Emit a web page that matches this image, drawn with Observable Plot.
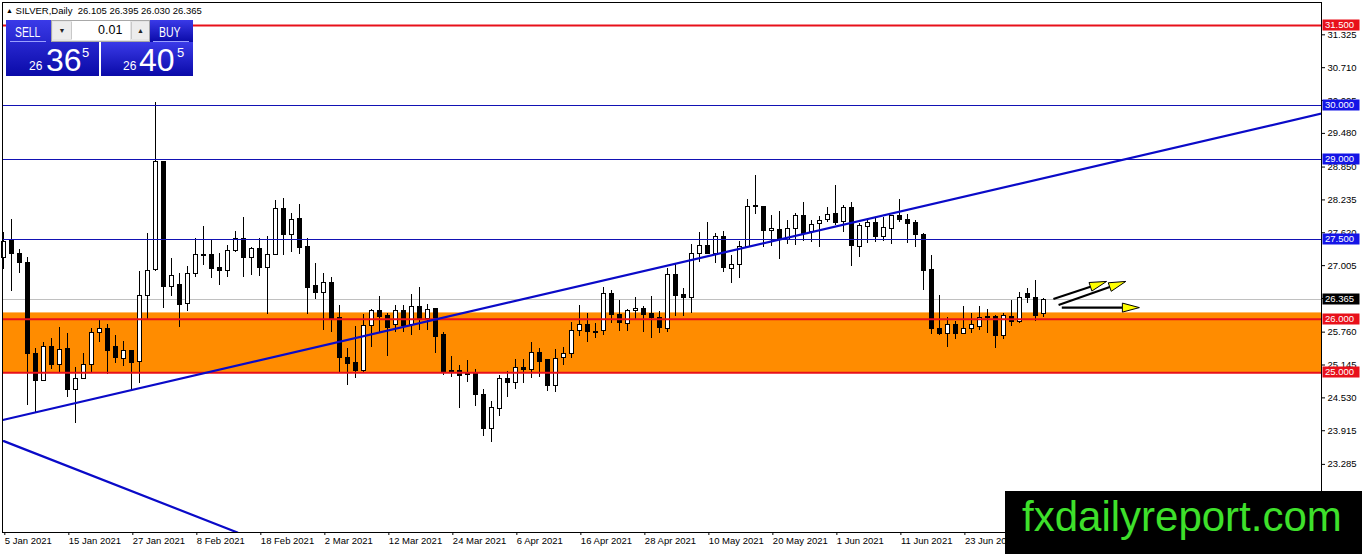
<!DOCTYPE html>
<html><head><meta charset="utf-8">
<script src="https://cdn.jsdelivr.net/npm/d3@7"></script>
<script src="https://cdn.jsdelivr.net/npm/@observablehq/plot@0.6"></script>
<style>
html,body{margin:0;padding:0;background:#fff;}
#wrap{position:relative;width:1362px;height:554px;overflow:hidden;font-family:"Liberation Sans",Arial,sans-serif;}
#wrap svg{position:absolute;left:0;top:0;}
.ab{position:absolute;line-height:1;white-space:nowrap;}
.blue{background:linear-gradient(#3a3ae8,#0a0aa8);}
.hdr{left:6px;top:6px;font-size:9.5px;color:#000;}
.wm{left:1005px;top:491px;width:357px;height:63px;background:#000;}
.wmt{left:17px;top:5px;font-size:42px;color:#3ee02b;font-family:"Liberation Sans",Arial,sans-serif;}
.w{color:#fff;}
</style></head><body><div id="wrap"></div>
<script>
// ---- data ----
const opens = [27.15,27.46,27.23,27.06,25.36,24.84,25.48,25.15,25.45,24.68,
24.89,25.15,25.75,25.82,25.48,25.26,25.40,25.21,26.44,26.93,
28.95,26.60,26.65,26.29,26.84,27.21,27.20,26.96,26.91,27.27,
27.51,27.15,27.31,26.96,27.21,28.07,27.58,27.88,27.35,26.62,
26.50,26.68,26.03,25.28,25.19,25.04,25.87,26.15,26.06,25.90,
26.15,25.90,26.24,26.01,26.20,25.70,25.03,25.03,24.98,24.97,
24.59,23.95,24.33,24.89,24.81,25.09,25.06,25.37,25.23,24.75,
25.28,25.36,25.79,25.89,25.77,25.78,26.48,26.09,25.92,26.15,
26.20,26.10,26.03,25.82,26.83,26.45,26.40,27.23,27.38,27.23,
27.55,26.95,27.02,27.35,28.12,28.11,27.65,27.68,27.48,27.69,
27.93,27.63,27.79,27.85,27.98,27.82,28.09,27.35,27.73,27.81,
27.54,27.69,27.93,27.85,27.80,27.58,26.92,25.82,25.73,25.89,
25.72,25.82,25.85,26.02,26.04,25.69,26.05,25.95,26.48,26.40,
26.105];
const highs = [27.63,27.86,27.30,27.15,25.45,25.57,25.64,25.85,25.73,25.09,
25.36,25.82,25.97,25.90,25.70,25.59,25.40,26.90,27.60,30.05,
28.96,27.13,26.85,26.98,27.51,27.74,27.49,27.23,27.38,27.64,
27.90,27.35,27.51,27.55,28.22,28.27,27.98,28.15,27.51,27.04,
26.85,26.79,26.26,25.45,25.87,26.09,26.18,26.42,26.10,26.26,
26.26,26.47,26.60,26.28,26.20,25.76,25.31,25.14,25.22,25.06,
24.69,24.47,24.94,25.03,25.24,25.24,25.56,25.45,25.23,25.43,
25.48,25.94,26.26,26.10,25.92,26.60,26.54,26.35,26.18,26.40,
26.24,26.43,26.14,26.95,27.05,26.58,27.40,27.63,27.82,27.60,
27.65,27.20,27.45,28.24,28.69,28.11,27.94,28.02,27.85,27.99,
28.19,27.85,27.93,28.10,28.51,28.13,28.18,27.79,27.88,27.88,
27.91,27.94,28.24,27.96,27.85,27.60,27.20,26.45,26.04,25.95,
26.24,26.10,26.24,26.18,26.07,26.10,26.35,26.51,26.57,26.73,
26.395];
const lows = [26.93,26.53,26.85,24.39,24.26,24.84,25.06,25.01,24.53,24.05,
24.89,25.01,25.57,24.96,25.17,25.12,24.64,24.79,25.99,26.90,
26.21,26.42,25.84,26.14,26.78,27.01,26.76,26.63,26.79,27.26,
26.78,26.82,26.80,26.09,27.21,27.20,27.26,27.21,26.09,26.37,
25.80,25.76,25.01,24.76,24.89,25.01,25.48,25.76,25.31,25.76,
25.76,25.70,25.79,25.79,25.36,24.94,24.92,24.34,24.81,24.37,
23.80,23.70,24.19,24.54,24.69,24.79,24.89,24.92,24.64,24.63,
25.14,25.26,25.67,25.57,25.64,25.70,25.92,25.78,25.78,25.99,
25.76,25.65,25.73,25.76,26.05,26.05,26.10,27.07,27.21,27.04,
26.88,26.67,26.76,27.34,27.96,27.34,27.36,27.12,27.40,27.38,
27.45,27.43,27.34,27.82,27.76,27.63,26.98,27.16,27.41,27.43,
27.45,27.40,27.82,27.41,27.34,26.54,25.72,25.69,25.48,25.62,
25.72,25.74,25.79,25.73,25.46,25.62,25.87,25.93,26.30,25.95,
26.030];
const closes = [27.45,27.23,27.06,25.36,24.84,25.48,25.15,25.43,24.68,24.89,
25.15,25.75,25.82,25.41,25.28,25.40,25.18,26.43,26.90,28.94,
26.60,26.81,26.27,26.85,27.21,27.18,26.95,26.90,27.27,27.51,
27.15,27.31,26.96,27.21,28.07,27.58,27.86,27.33,26.59,26.50,
26.68,26.01,25.28,25.17,25.04,25.87,26.15,26.04,25.84,26.15,
25.87,26.24,26.01,26.18,25.67,25.01,25.01,24.94,24.96,24.59,
23.95,24.34,24.89,24.81,25.09,25.06,25.37,25.20,24.75,25.26,
25.36,25.78,25.90,25.76,25.74,26.48,26.09,25.93,26.15,26.20,
26.09,26.02,25.84,26.83,26.43,26.40,27.23,27.38,27.23,27.55,
26.96,27.02,27.35,28.11,28.10,27.65,27.69,27.48,27.69,27.93,
27.60,27.77,27.84,27.96,27.80,28.09,27.37,27.74,27.81,27.54,
27.71,27.93,27.85,27.78,27.58,26.90,25.81,25.72,25.89,25.72,
25.82,25.89,26.03,26.04,25.69,26.07,25.95,26.40,26.40,26.07,
26.365];

const dateTickBars = [0,8,16,24,32,40,48,56,64,72,80,88,96,104,112,120];
const dateTickLabels = ["5 Jan 2021","15 Jan 2021","27 Jan 2021","8 Feb 2021","18 Feb 2021","2 Mar 2021",
  "12 Mar 2021","24 Mar 2021","6 Apr 2021","16 Apr 2021","28 Apr 2021","10 May 2021","20 May 2021",
  "1 Jun 2021","11 Jun 2021","23 Jun 2021"];
const priceTicks = [31.325,30.710,30.095,29.480,28.850,28.235,27.620,27.005,26.390,25.760,25.145,24.530,23.915,23.285];

const redLevels = [31.5, 26.0, 25.0];
const blueLevels = [30.0, 29.0, 27.5];
const bidPrice = 26.365;
const zoneLow = 25.0, zoneHigh = 26.12;

const trendUpBars = [0, 164.7], trendUpPrices = [24.12, 29.85];
const trendDownBars = [0, 29.2], trendDownPrices = [23.72, 22.01];

const arrowFromBar = [131.25, 131.9, 132.3], arrowFromPrice = [26.37, 26.26, 26.21];
const arrowToBar = [137.9, 140.3, 142.0], arrowToPrice = [26.70, 26.70, 26.21];

const symbolName = "SILVER,Daily";

// ---- build tables ----
const candles = opens.map((o, i) => ({i, open: o, high: highs[i], low: lows[i], close: closes[i]}));
const up = candles.filter(d => d.close >= d.open);
const down = candles.filter(d => d.close < d.open);
const trendUp = trendUpBars.map((b, k) => ({bar: b, price: trendUpPrices[k]}));
const trendDown = trendDownBars.map((b, k) => ({bar: b, price: trendDownPrices[k]}));
const arrows = arrowFromBar.map((b, k) => ({x1: b, y1: arrowFromPrice[k], x2: arrowToBar[k], y2: arrowToPrice[k]}));
const levelTags = [
  ...redLevels.map(v => ({v, c: "#e8101a"})),
  ...blueLevels.map(v => ({v, c: "#1414e6"})),
  {v: bidPrice, c: "#000"}
];

function arrowMark(index, scales) {
  const g = d3.create("svg:g");
  for (const a of arrows) {
    const x1 = scales.x(a.x1), y1 = scales.y(a.y1), x2 = scales.x(a.x2), y2 = scales.y(a.y2);
    const dx = x2 - x1, dy = y2 - y1, len = Math.hypot(dx, dy);
    const ux = dx / len, uy = dy / len, nx = -uy, ny = ux;
    const L = 17, W = 4.5;
    const bx = x2 - L * ux, by = y2 - L * uy;
    g.append("line").attr("x1", x1).attr("y1", y1).attr("x2", bx).attr("y2", by)
      .attr("stroke", "#000").attr("stroke-width", 2.2);
    g.append("path").attr("d", `M${x2},${y2}L${bx + W*nx},${by + W*ny}L${bx - W*nx},${by - W*ny}Z`)
      .attr("fill", "#ffff00").attr("stroke", "#000").attr("stroke-width", 1);
  }
  return g.node();
}

const W = 1362, H = 554, ML = 2, MR = 41, MT = 2, MB = 22;

const chart = Plot.plot({
  width: W, height: H,
  marginLeft: ML, marginRight: MR, marginTop: MT, marginBottom: MB,
  x: {domain: [-0.166, 164.7]},
  y: {domain: [22.01, 31.93]},
  style: {fontFamily: "'Liberation Sans', Arial, sans-serif", fontSize: "9.5px", color: "#000", background: "#fff", overflow: "visible"},
  marks: [
    Plot.rect([{low: zoneLow, high: zoneHigh}], {y1: "low", y2: "high", fill: "#ff8c00"}),
    Plot.ruleY([bidPrice], {stroke: "#c0c0c0", strokeWidth: 1, shapeRendering: "crispEdges"}),
    Plot.ruleX(candles, {x: "i", y1: "low", y2: "high", stroke: "#000", strokeWidth: 1, shapeRendering: "crispEdges"}),
    Plot.rect(down, {x1: d => d.i - 0.25, x2: d => d.i + 0.25, y1: "open", y2: "close", fill: "#000", stroke: "#000", strokeWidth: 1, shapeRendering: "crispEdges"}),
    Plot.rect(up, {x1: d => d.i - 0.25, x2: d => d.i + 0.25, y1: "open", y2: "close", fill: "#fff", stroke: "#000", strokeWidth: 1, shapeRendering: "crispEdges"}),
    Plot.ruleY(blueLevels, {stroke: "#1212b4", strokeWidth: 1, shapeRendering: "crispEdges"}),
    Plot.ruleY(redLevels, {stroke: "#e8101a", strokeWidth: 2}),
    Plot.line(trendUp, {x: "bar", y: "price", stroke: "#0a0ac8", strokeWidth: 2.2, clip: true}),
    Plot.line(trendDown, {x: "bar", y: "price", stroke: "#0a0ac8", strokeWidth: 2.2, clip: true}),
    arrowMark,
    Plot.frame({stroke: "#000", strokeWidth: 1}),
    Plot.axisY({anchor: "right", ticks: priceTicks, tickFormat: d3.format(".3f"), tickSize: 3, tickPadding: 3, label: null}),
    Plot.axisX({anchor: "bottom", ticks: dateTickBars, tickFormat: d => dateTickLabels[dateTickBars.indexOf(d)],
      tickSize: 3, tickPadding: 2, textAnchor: "start", dx: 1, label: null})
  ]
});

// price tags on the right axis, positioned with the chart's own y scale
const ys = chart.scale("y");
const tagG = d3.select(chart).append("g").attr("font-family", "'Liberation Sans', Arial, sans-serif").attr("font-size", "9.5px");
const x0 = W - MR + 1.5;
for (const t of levelTags) {
  const y = Math.round(ys.apply(t.v));
  tagG.append("rect").attr("x", x0).attr("y", y - 5.5).attr("width", 37).attr("height", 11).attr("fill", t.c);
  tagG.append("text").attr("x", x0 + 2.5).attr("y", y).attr("dy", "0.35em").attr("text-anchor", "start")
    .attr("fill", "#fff").text(d3.format(".3f")(t.v));
}

const wrap = document.getElementById("wrap");
wrap.appendChild(chart);

const last = candles[candles.length - 1];
const f3 = d3.format(".3f");
const bidStr = f3(last.close), askStr = f3(last.close + 0.04);
function split(s) { // "26.365" -> ["26","36","5"]
  const [a, b] = s.split(".");
  return [a, b.slice(0, 2), b.slice(2)];
}
const [bA, bB, bC] = split(bidStr);
const [aA, aB, aC] = split(askStr);

const html = `
<div class="ab hdr"><span style="font-size:7px;vertical-align:1px">&#9650;</span> ${symbolName}&nbsp; ${f3(last.open)} ${f3(last.high)} ${f3(last.low)} ${f3(last.close)}</div>
<div class="ab blue" style="left:6px;top:20px;width:93px;height:56px;"></div>
<div class="ab" style="left:10px;top:41px;width:36px;height:1px;background:#9aa0ff;"></div>
<div class="ab w" style="left:15px;top:25px;font-size:14px;transform:scaleX(0.74);transform-origin:left top;">SELL</div>
<div class="ab w" style="left:29px;top:60px;font-size:12px;">${bA}</div>
<div class="ab w" style="left:46px;top:44px;font-size:32px;">${bB}</div>
<div class="ab w" style="left:82px;top:46px;font-size:13px;">${bC}</div>
<div class="ab blue" style="left:149px;top:20px;width:44px;height:22px;"></div>
<div class="ab blue" style="left:101px;top:42px;width:92px;height:34px;"></div>
<div class="ab" style="left:153px;top:41px;width:36px;height:1px;background:#9aa0ff;"></div>
<div class="ab w" style="left:159px;top:25px;font-size:14px;transform:scaleX(0.75);transform-origin:left top;">BUY</div>
<div class="ab w" style="left:123px;top:60px;font-size:12px;">${aA}</div>
<div class="ab w" style="left:139px;top:44px;font-size:32px;">${aB}</div>
<div class="ab w" style="left:177px;top:46px;font-size:13px;">${aC}</div>
<div class="ab" style="left:51px;top:20px;width:97px;height:20px;background:#e4e4e4;border:1px solid #a8a8a8;box-sizing:content-box;"></div>
<div class="ab" style="left:53px;top:22px;width:18px;height:17px;background:#ececec;border-right:1px solid #c8c8c8;font-size:7px;text-align:center;line-height:17px;color:#222;">&#9660;</div>
<div class="ab" style="left:72px;top:21px;width:58px;height:19px;background:#fff;"></div>
<div class="ab" style="left:98px;top:24px;font-size:12.5px;color:#000;">0.01</div>
<div class="ab" style="left:131px;top:22px;width:17px;height:17px;background:#ececec;border-left:1px solid #c8c8c8;font-size:7px;text-align:center;line-height:17px;color:#222;">&#9650;</div>
<div class="ab wm"><div class="ab wmt">fxdailyreport.com</div></div>
`;
wrap.insertAdjacentHTML("beforeend", html);
</script>
</body></html>
